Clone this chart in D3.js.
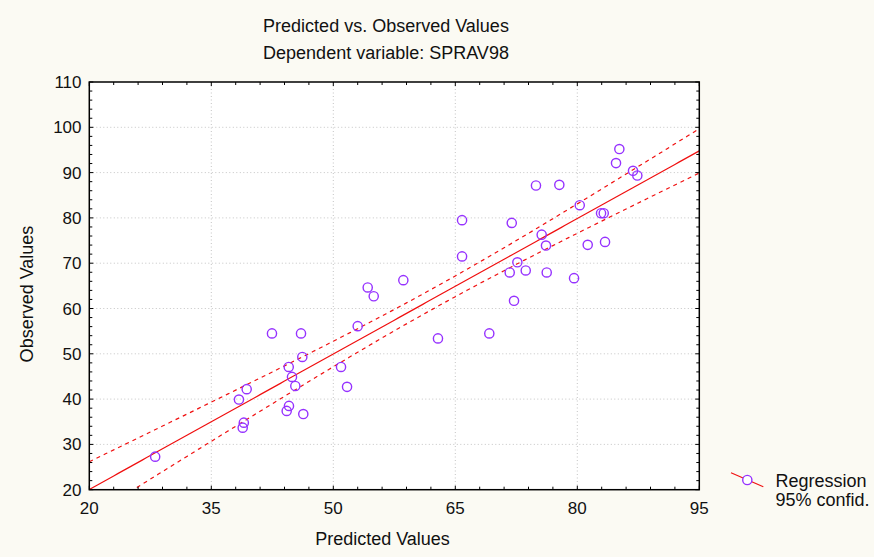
<!DOCTYPE html>
<html>
<head>
<meta charset="utf-8">
<script src="https://cdn.jsdelivr.net/npm/d3@7"></script>
<style>
  html, body { margin: 0; padding: 0; background: #fbfaf3; }
  svg { display: block; font-family: "Liberation Sans", Arial, sans-serif; }
</style>
</head>
<body>
<svg id="chart" width="874" height="557"></svg>
<script>
/* ── data ── */
const predicted = [
  28.1, 38.4, 39.35, 39.0, 38.86, 42.46, 46.03, 46.19, 44.52, 44.92, 45.33,
  44.55, 44.27, 46.31, 50.95, 51.69, 53.0, 54.23, 54.97, 58.61, 62.87, 65.83,
  65.83, 69.18, 71.69, 71.94, 72.22, 72.63, 73.66, 74.92, 75.62, 76.15, 76.24,
  77.79, 79.6, 80.3, 81.28, 82.92, 83.25, 83.41, 84.76, 85.17, 86.85, 87.38
];
const observed = [
  27.3, 39.9, 42.2, 34.8, 33.7, 54.5, 54.5, 49.3, 47.1, 44.9, 42.9,
  38.5, 37.4, 36.7, 47.1, 42.7, 56.1, 64.65, 62.7, 66.26, 53.4, 79.5,
  71.5, 54.5, 67.96, 78.9, 61.7, 70.2, 68.4, 87.15, 76.3, 73.9, 67.96,
  87.3, 66.7, 82.8, 74.05, 81.04, 81.04, 74.7, 92.1, 95.2, 90.4, 89.36
];
const xTicks = [20, 35, 50, 65, 80, 95];
const yTicks = [20, 30, 40, 50, 60, 70, 80, 90, 100, 110];
const titleLines = ["Predicted vs. Observed Values", "Dependent variable: SPRAV98"];
const legendLines = ["Regression", "95% confid."];
const tCrit = 2.018; // t(0.975, df = 42)

const points = predicted.map((p, i) => ({ x: p, y: observed[i] }));

/* ── layout ── */
const svg = d3.select("#chart");
const L = 89.3, R = 699.3, T = 82, B = 489.7;
const x = d3.scaleLinear().domain([20, 95]).range([L, R]);
const y = d3.scaleLinear().domain([20, 110]).range([B, T]);

svg.append("rect").attr("width", 874).attr("height", 557).attr("fill", "#fbfaf3");
svg.append("rect").attr("x", L).attr("y", T).attr("width", R - L).attr("height", B - T).attr("fill", "#fff");

svg.append("defs").append("clipPath").attr("id", "clip")
  .append("rect").attr("x", L).attr("y", T).attr("width", R - L).attr("height", B - T);

// grid
const grid = svg.append("g").attr("stroke", "#c4c4c4").attr("stroke-dasharray", "1,2.5");
grid.selectAll(".gx").data(xTicks.slice(1, -1)).join("line")
  .attr("x1", d => x(d)).attr("x2", d => x(d)).attr("y1", T).attr("y2", B);
grid.selectAll(".gy").data(yTicks.slice(1, -1)).join("line")
  .attr("y1", d => y(d)).attr("y2", d => y(d)).attr("x1", L).attr("x2", R);

/* ── regression + 95% band ── */
const n = points.length;
const mx = d3.mean(points, d => d.x), my = d3.mean(points, d => d.y);
const sxx = d3.sum(points, d => (d.x - mx) ** 2);
const sxy = d3.sum(points, d => (d.x - mx) * (d.y - my));
const slope = sxy / sxx, icpt = my - slope * mx;
const s = Math.sqrt(d3.sum(points, d => (d.y - icpt - slope * d.x) ** 2) / (n - 2));
const band = xv => tCrit * s * Math.sqrt(1 / n + (xv - mx) ** 2 / sxx);
const xs = d3.range(20, 95.01, 0.5);

const plot = svg.append("g").attr("clip-path", "url(#clip)");
const line = d3.line().x(d => x(d[0])).y(d => y(d[1]));
plot.append("path").datum(xs.map(v => [v, icpt + slope * v]))
  .attr("d", line).attr("fill", "none").attr("stroke", "#f01010").attr("stroke-width", 1.2);
[1, -1].forEach(sg => {
  plot.append("path").datum(xs.map(v => [v, icpt + slope * v + sg * band(v)]))
    .attr("d", line).attr("fill", "none").attr("stroke", "#f01010")
    .attr("stroke-width", 1.2).attr("stroke-dasharray", "4,4");
});

// points
svg.append("g").selectAll("circle").data(points).join("circle")
  .attr("cx", d => x(d.x)).attr("cy", d => y(d.y)).attr("r", 4.6)
  .attr("fill", "none").attr("stroke", "#9632ff").attr("stroke-width", 1.4);

/* ── frame + inward ticks ── */
const ax = svg.append("g").attr("stroke", "#000");
const xMinor = d3.range(20, 95.01, 3);
const yMinor = d3.range(20, 110.01, 2);
ax.selectAll(".tb").data(xMinor).join("line")
  .attr("x1", d => x(d)).attr("x2", d => x(d)).attr("y1", B).attr("y2", d => B - (xTicks.includes(d) ? 4 : 3));
ax.selectAll(".tt").data(xMinor).join("line")
  .attr("x1", d => x(d)).attr("x2", d => x(d)).attr("y1", T).attr("y2", d => T + (xTicks.includes(d) ? 4 : 3));
ax.selectAll(".tl").data(yMinor).join("line")
  .attr("y1", d => y(d)).attr("y2", d => y(d)).attr("x1", L).attr("x2", d => L + (yTicks.includes(d) ? 4 : 3));
ax.selectAll(".tr").data(yMinor).join("line")
  .attr("y1", d => y(d)).attr("y2", d => y(d)).attr("x1", R).attr("x2", d => R - (yTicks.includes(d) ? 4 : 3));
svg.append("rect").attr("x", L).attr("y", T).attr("width", R - L).attr("height", B - T)
  .attr("fill", "none").attr("stroke", "#000").attr("stroke-width", 1.5);

// tick labels
const lab = svg.append("g").attr("font-size", 17).attr("fill", "#111");
lab.selectAll(".xl").data(xTicks).join("text")
  .attr("x", d => x(d)).attr("y", 514).attr("text-anchor", "middle").text(d => d);
lab.selectAll(".yl").data(yTicks).join("text")
  .attr("x", 81.5).attr("y", d => y(d) + 6).attr("text-anchor", "end").text(d => d);

// titles
svg.append("g").attr("font-size", 18).attr("fill", "#111").attr("text-anchor", "middle")
  .selectAll("text").data(titleLines).join("text")
  .attr("x", 386).attr("y", (d, i) => 32 + i * 26.5).text(d => d);
svg.append("text").attr("x", 382.5).attr("y", 545).attr("text-anchor", "middle")
  .attr("font-size", 18).attr("fill", "#111").text("Predicted Values");
svg.append("text").attr("transform", "translate(32.5,294) rotate(-90)").attr("text-anchor", "middle")
  .attr("font-size", 18).attr("fill", "#111").text("Observed Values");

/* ── legend ── */
const lg = svg.append("g");
lg.append("line").attr("x1", 731).attr("y1", 472.7).attr("x2", 763.3).attr("y2", 486.7)
  .attr("stroke", "#f01010").attr("stroke-width", 1.2);
lg.append("circle").attr("cx", 747.3).attr("cy", 480).attr("r", 4.6)
  .attr("fill", "#fff").attr("stroke", "#9632ff").attr("stroke-width", 1.4);
lg.selectAll("text").data(legendLines).join("text")
  .attr("x", 775.5).attr("y", (d, i) => 486.7 + i * 19.3)
  .attr("font-size", 18).attr("fill", "#111").text(d => d);
</script>
</body>
</html>
